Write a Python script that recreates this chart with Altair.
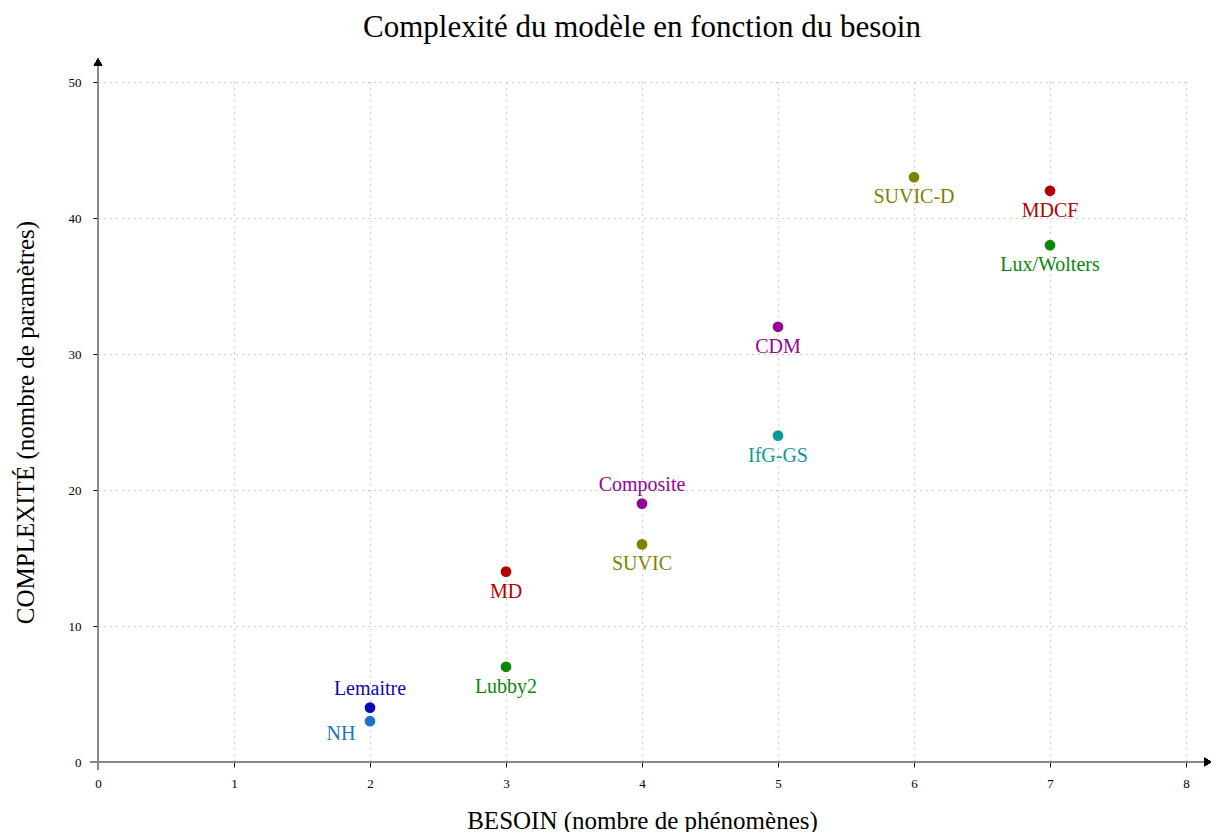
import altair as alt
import pandas as pd

names = ["Lemaitre", "NH", "Lubby2", "MD", "SUVIC", "Composite", "IfG-GS", "CDM", "SUVIC-D", "MDCF", "Lux/Wolters"]
besoin = [2, 2, 3, 3, 4, 4, 5, 5, 6, 7, 7]
complexite = [4, 3, 7, 14, 16, 19, 24, 32, 43, 42, 38]
colors = ["#0a0ab8", "#1a74c8", "#0a870a", "#b40000", "#808000", "#990099", "#0a9a9a", "#990099", "#808000", "#b40000", "#0a870a"]
above = ["Lemaitre", "Composite"]
left_below = ["NH"]

df = pd.DataFrame({"name": names, "x": besoin, "y": complexite})

FONT = "Liberation Serif"
W, H = 1088, 680

xs = alt.Scale(domain=[0, 8], nice=False)
ys = alt.Scale(domain=[0, 50], nice=False)
col = alt.Color("name:N", scale=alt.Scale(domain=names, range=colors), legend=None)

base = alt.Chart(df)

points = base.mark_circle(size=115, opacity=1).encode(
    x=alt.X("x:Q", scale=xs,
            axis=alt.Axis(values=list(range(0, 9)), title="BESOIN (nombre de phénomènes)", format="d")),
    y=alt.Y("y:Q", scale=ys,
            axis=alt.Axis(values=list(range(0, 51, 10)), title="COMPLEXITÉ (nombre de paramètres)", format="d")),
    color=col,
)

def labels(filt, dx, dy):
    return base.transform_filter(filt).mark_text(
        font=FONT, fontSize=20, dx=dx, dy=dy
    ).encode(x=alt.X("x:Q", scale=xs), y=alt.Y("y:Q", scale=ys), text="name:N", color=col)

lab_below = labels(~alt.FieldOneOfPredicate(field="name", oneOf=above + left_below), 0, 20)
lab_above = labels(alt.FieldOneOfPredicate(field="name", oneOf=above), 0, -19)
lab_nh = labels(alt.FieldOneOfPredicate(field="name", oneOf=left_below), -29, 13)

xline = alt.Chart(df).mark_rule(color="#888888", strokeWidth=1.2).encode(
    x=alt.value(-8), x2=alt.value(W + 22), y=alt.value(H))
yline = alt.Chart(df).mark_rule(color="#888888", strokeWidth=1.2).encode(
    y=alt.value(H + 8), y2=alt.value(-20), x=alt.value(0))
xarrow = alt.Chart(df).mark_point(shape="triangle-right", filled=True, color="black", size=70, opacity=1).encode(
    x=alt.value(W + 22), y=alt.value(H))
yarrow = alt.Chart(df).mark_point(shape="triangle-up", filled=True, color="black", size=70, opacity=1).encode(
    x=alt.value(0), y=alt.value(-20))

chart = alt.layer(xline, yline, xarrow, yarrow, points, lab_below, lab_above, lab_nh).properties(
    width=W, height=H,
    title=alt.TitleParams("Complexité du modèle en fonction du besoin", font=FONT, fontSize=31,
                          fontWeight="normal", color="black", offset=14, anchor="middle"),
    autosize=alt.AutoSizeParams(type="none"),
    padding={"left": 90, "top": 74, "right": 25, "bottom": 70},
).configure_view(stroke=None).configure_axis(
    domain=False,
    grid=True, gridColor="#9a9a9a", gridDash=[1, 5], gridWidth=1,
    tickColor="black", tickSize=5, tickWidth=1,
    labelFont=FONT, labelFontSize=13, labelColor="black", labelFlush=False,
    titleFont=FONT, titleFontSize=25, titleFontWeight="normal", titleColor="black",
).configure_axisX(titlePadding=18, labelPadding=10).configure_axisY(titlePadding=30, labelPadding=12)

chart.save("out.html", embed_options={"renderer": "svg", "actions": False})
